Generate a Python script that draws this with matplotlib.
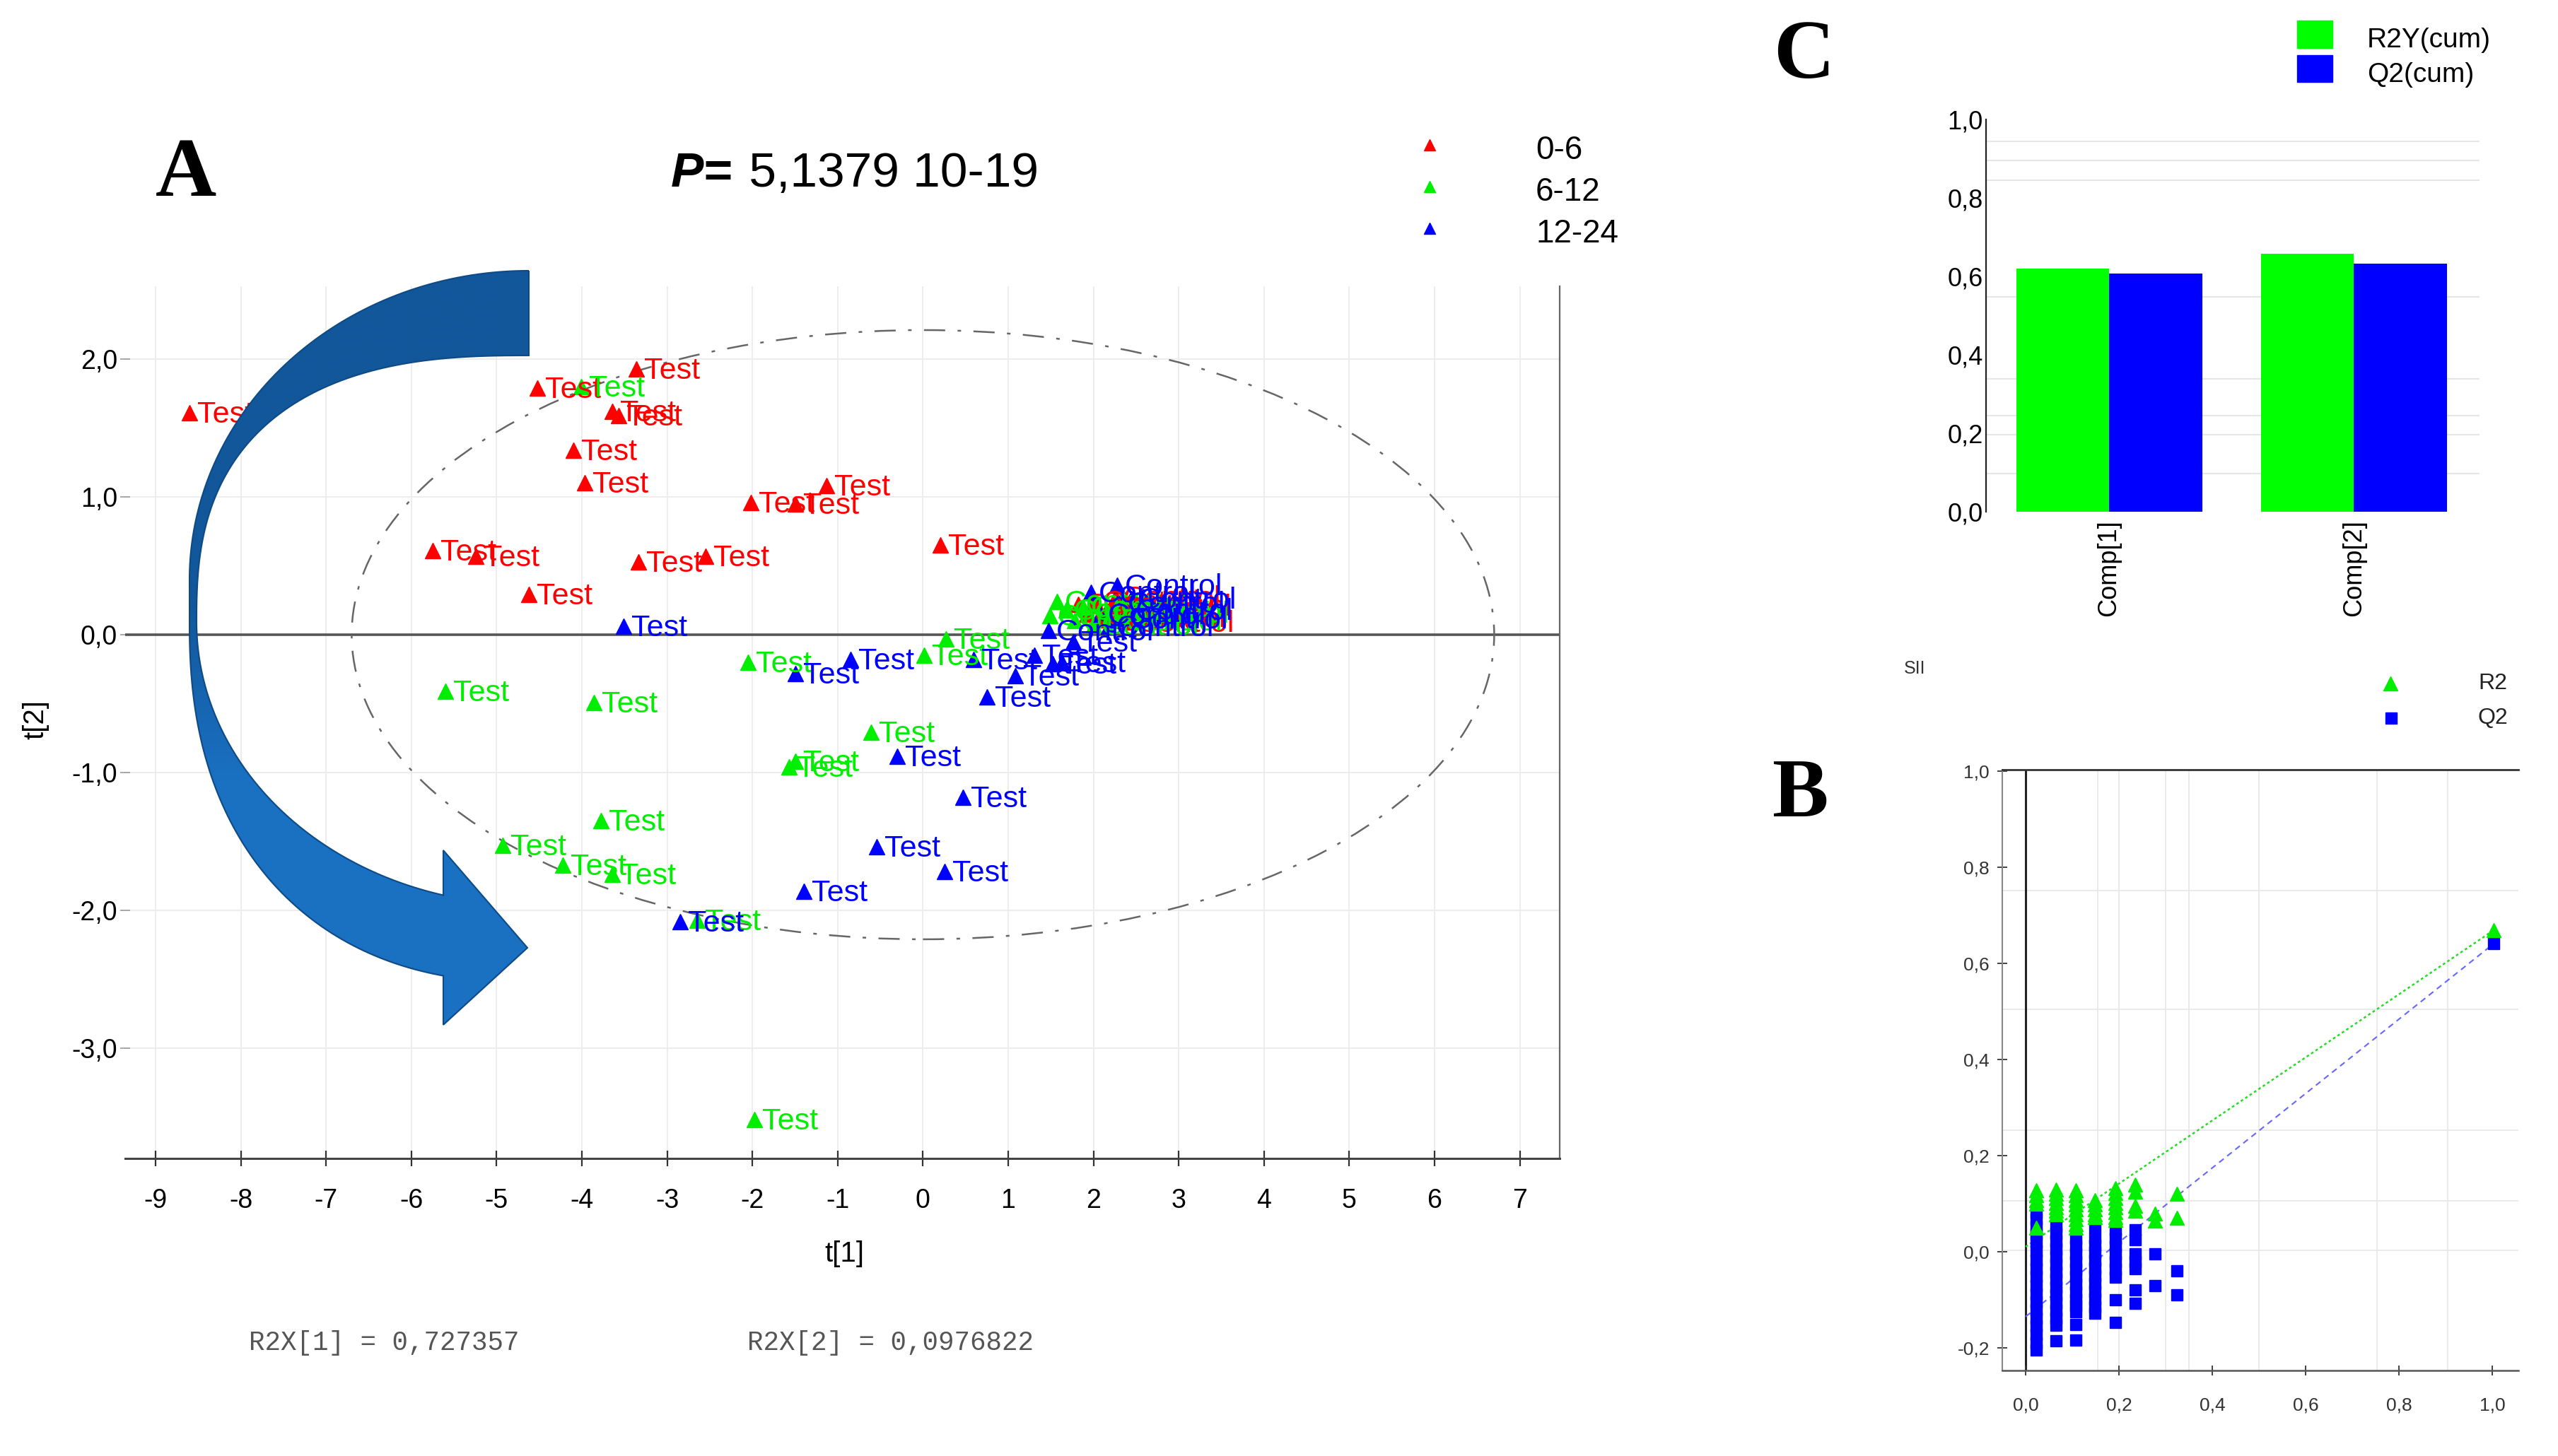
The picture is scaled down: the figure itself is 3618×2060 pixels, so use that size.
import numpy as np
import matplotlib
matplotlib.use('Agg')
import matplotlib.pyplot as plt
from matplotlib.patches import Ellipse, Rectangle, PathPatch
from matplotlib.path import Path

W, H = 3618, 2060
plt.rcParams['font.family'] = ['Liberation Sans', 'DejaVu Sans']

# ---------------- Panel A data (score plot t[1] vs t[2]) ----------------
red_test_x = [-8.60, -4.52, -3.36, -3.64, -3.57, -4.10, -3.97, -2.02, -1.50, -1.13,
              -5.75, -5.24, -3.34, -2.55, -4.62, 0.20]
red_test_y = [1.61, 1.79, 1.93, 1.62, 1.59, 1.34, 1.10, 0.96, 0.95, 1.08,
              0.61, 0.57, 0.53, 0.57, 0.29, 0.65]
green_test_x = [-4.01, -5.60, -3.86, -2.05, 0.27, 0.01, -0.61, -1.50, -1.57, -3.78,
                -4.93, -4.22, -3.64, -2.65, -1.98]
green_test_y = [1.80, -0.41, -0.49, -0.20, -0.03, -0.15, -0.71, -0.92, -0.96, -1.35,
                -1.53, -1.67, -1.74, -2.07, -3.52]
blue_test_x = [-3.51, -1.50, -0.85, 0.59, 1.31, 1.52, 1.63, 1.08, 0.75, -0.30,
               0.47, -0.54, 0.25, -1.40, -2.85, 1.76]
blue_test_y = [0.06, -0.28, -0.18, -0.18, -0.15, -0.21, -0.20, -0.30, -0.45, -0.88,
               -1.18, -1.54, -1.72, -1.86, -2.08, -0.05]
red_ctrl_x = [1.82, 1.92, 2.02, 2.10, 2.20, 2.26, 2.32, 2.38, 2.42]
red_ctrl_y = [0.22, 0.15, 0.24, 0.11, 0.19, 0.27, 0.13, 0.21, 0.09]
green_ctrl_x = [1.57, 1.49, 1.68, 1.78, 1.88, 2.00, 2.14, 2.28, 2.36]
green_ctrl_y = [0.24, 0.14, 0.18, 0.10, 0.20, 0.07, 0.16, 0.10, 0.16]
blue_ctrl_x = [1.47, 1.97, 2.08, 2.18, 2.28, 2.31, 2.34, 2.40, 2.44]
blue_ctrl_y = [0.03, 0.31, 0.15, 0.06, 0.36, 0.23, 0.12, 0.18, 0.26]
group_names = ['0-6', '6-12', '12-24']
group_colors = ['#ff0000', '#00ee00', '#0000ff']
a_xticks = list(range(-9, 8))
a_yticks = [-3.0, -2.0, -1.0, 0.0, 1.0, 2.0]
ellipse_rx, ellipse_ry = 6.70, 2.21
p_value_text = ' 5,1379 10-19'
r2x_1 = '0,727357'
r2x_2 = '0,0976822'

# ---------------- Panel C data (bar chart) ----------------
c_categories = ['Comp[1]', 'Comp[2]']
c_r2y = [0.620, 0.657]
c_q2 = [0.607, 0.633]
c_yticks = [0.0, 0.2, 0.4, 0.6, 0.8, 1.0]
c_gridlines = [0.097, 0.196, 0.245, 0.339, 0.548, 0.845, 0.895, 0.944]

# ---------------- Panel B data (permutation plot) ----------------
b_col_x = [0.023, 0.065, 0.108, 0.148, 0.192, 0.235, 0.277, 0.324]
b_r2_cols = [
    [0.128, 0.118, 0.108, 0.100, 0.050],
    [0.130, 0.121, 0.112, 0.102, 0.093, 0.085, 0.078],
    [0.128, 0.118, 0.108, 0.098, 0.088, 0.078, 0.068, 0.058, 0.050],
    [0.108, 0.098, 0.088, 0.078, 0.072],
    [0.132, 0.122, 0.112, 0.102, 0.092, 0.082, 0.072, 0.066],
    [0.140, 0.125, 0.095, 0.085],
    [0.080, 0.065],
    [0.120, 0.070],
]
b_q2_cols = [
    [0.083, 0.068, 0.052, 0.037, 0.020, 0.002, -0.018, -0.035, -0.052, -0.070, -0.088,
     -0.104, -0.121, -0.138, -0.155, -0.172, -0.190, -0.205],
    [0.053, 0.038, 0.022, 0.006, -0.010, -0.026, -0.042, -0.058, -0.074, -0.090,
     -0.106, -0.122, -0.138, -0.153, -0.185],
    [0.028, 0.012, -0.004, -0.020, -0.036, -0.052, -0.068, -0.084, -0.100, -0.112,
     -0.125, -0.151, -0.184],
    [0.053, 0.030, 0.014, -0.002, -0.018, -0.034, -0.050, -0.066, -0.082, -0.098,
     -0.114, -0.128],
    [0.045, 0.028, 0.012, -0.004, -0.020, -0.036, -0.053, -0.100, -0.147],
    [0.045, 0.025, -0.005, -0.020, -0.035, -0.080, -0.107],
    [-0.005, -0.070],
    [-0.040, -0.090],
]
b_final_x = 1.003
b_final_r2 = 0.669
b_final_q2 = 0.641
b_r2_intercept = 0.0105
b_q2_intercept = -0.135
b_ticks = [-0.2, 0.0, 0.2, 0.4, 0.6, 0.8, 1.0]
b_xticks = [0.0, 0.2, 0.4, 0.6, 0.8, 1.0]
b_vgrid = [0.155, 0.20, 0.30, 0.35, 0.50, 0.753, 0.905]
b_hgrid = [0.003, 0.106, 0.253, 0.505, 0.751]


def comma(v):
    return f"{v:.1f}".replace('.', ',')


def rect(left, top, right, bottom):
    return [left / W, 1 - bottom / H, (right - left) / W, (bottom - top) / H]


def superellipse(cx, cy, rx, ry, n, t0, t1, num=150):
    t = np.radians(np.linspace(t0, t1, num))
    c, s = np.cos(t), np.sin(t)
    x = cx + rx * np.sign(c) * np.abs(c) ** (2.0 / n)
    y = cy + ry * np.sign(s) * np.abs(s) ** (2.0 / n)
    return np.column_stack([x, y])


fig = plt.figure(figsize=(W / 100, H / 100), dpi=100)

# ======================= Panel A =======================
axA = fig.add_axes(rect(177, 405, 2206, 1639))
axA.set_xlim(-9.357, 7.468)
axA.set_ylim(-3.80, 2.528)
axA.set_xticks(a_xticks)
axA.set_xticklabels([str(v) for v in a_xticks])
axA.set_yticks(a_yticks)
axA.set_yticklabels([comma(v) for v in a_yticks])
axA.grid(True, color='#ececec', lw=1.3)
axA.set_axisbelow(True)
for s in ['left', 'top']:
    axA.spines[s].set_visible(False)
axA.spines['bottom'].set_color('#444444')
axA.spines['bottom'].set_linewidth(2.2)
axA.spines['right'].set_color('#666666')
axA.spines['right'].set_linewidth(1.6)
axA.tick_params(axis='x', direction='inout', length=16, width=1.6, color='#333333',
                labelsize=27, pad=22)
axA.tick_params(axis='y', direction='inout', length=10, width=1.2, color='#999999',
                labelsize=27, pad=3)
axA.axhline(0, color='#555555', lw=2.6, zorder=1)
axA.add_patch(Ellipse((0, 0), 2 * ellipse_rx, 2 * ellipse_ry, fill=False,
                      ec='#666666', lw=1.8, ls=(0, (12, 7, 2, 7)), zorder=2))


def draw_group(xs, ys, color, label):
    axA.plot(xs, ys, ls='none', marker='^', ms=16, color=color, mec=color, zorder=3)
    for x, y in zip(xs, ys):
        axA.annotate(label, (x, y), xytext=(11, -3), textcoords='offset pixels',
                     ha='left', va='center', fontsize=31, color=color, zorder=4)


draw_group(red_test_x, red_test_y, group_colors[0], 'Test')
draw_group(green_test_x, green_test_y, group_colors[1], 'Test')
draw_group(blue_test_x, blue_test_y, group_colors[2], 'Test')
draw_group(red_ctrl_x, red_ctrl_y, group_colors[0], 'Control')
draw_group(green_ctrl_x, green_ctrl_y, group_colors[1], 'Control')
draw_group(blue_ctrl_x, blue_ctrl_y, group_colors[2], 'Control')

# ======================= Panel C =======================
axC = fig.add_axes(rect(2809, 169, 3507, 724))
bw = 0.38
xc = np.arange(len(c_categories))
axC.bar(xc - bw / 2, c_r2y, bw, color='#00ff00', zorder=3)
axC.bar(xc + bw / 2, c_q2, bw, color='#0000ff', zorder=3)
axC.set_xlim(-0.503, 1.514)
axC.set_ylim(0, 1.0)
axC.set_yticks(c_yticks)
axC.set_yticklabels([comma(v) for v in c_yticks])
axC.set_xticks(xc)
axC.set_xticklabels(c_categories, rotation=90)
for g in c_gridlines:
    axC.axhline(g, color='#e6e6e6', lw=1.5, zorder=1)
for s in ['top', 'right', 'bottom']:
    axC.spines[s].set_visible(False)
axC.spines['left'].set_color('#222222')
axC.spines['left'].set_linewidth(1.6)
axC.tick_params(axis='y', length=0, labelsize=26, pad=3)
axC.tick_params(axis='x', length=0, labelsize=26, pad=8)

# ======================= Panel B =======================
axB = fig.add_axes(rect(2832, 1089, 3562, 1939))
axB.set_xlim(-0.05, 1.056)
axB.set_ylim(-0.247, 1.003)
for g in b_vgrid:
    axB.axvline(g, color='#e8e8e8', lw=1.3, zorder=0)
for g in b_hgrid:
    axB.axhline(g, color='#e8e8e8', lw=1.3, zorder=0)
axB.axvline(0, color='#222222', lw=2.2, zorder=1)
axB.plot([0, b_final_x], [b_r2_intercept, b_final_r2], color='#22dd22', lw=1.8,
         ls=(0, (1.5, 1.5)), zorder=2)
axB.plot([0, b_final_x], [b_q2_intercept, b_final_q2], color='#6666ff', lw=1.5,
         ls=(0, (4, 3)), zorder=2)
for x, col in zip(b_col_x, b_q2_cols):
    axB.plot([x] * len(col), col, ls='none', marker='s', ms=12, color='#0000ff', zorder=3)
for x, col in zip(b_col_x, b_r2_cols):
    axB.plot([x] * len(col), col, ls='none', marker='^', ms=14, color='#00ee00', zorder=4)
axB.plot([b_final_x], [b_final_q2], ls='none', marker='s', ms=12, color='#0000ff', zorder=3)
axB.plot([b_final_x], [b_final_r2], ls='none', marker='^', ms=14, color='#00ee00', zorder=4)
axB.set_yticks(b_ticks)
axB.set_yticklabels([comma(v) for v in b_ticks])
axB.set_xticks(b_xticks)
axB.set_xticklabels([comma(v) for v in b_xticks])
axB.spines['right'].set_visible(False)
axB.spines['top'].set_color('#333333')
axB.spines['top'].set_linewidth(2.0)
axB.spines['left'].set_color('#888888')
axB.spines['left'].set_linewidth(1.5)
axB.spines['bottom'].set_color('#555555')
axB.spines['bottom'].set_linewidth(1.8)
axB.tick_params(axis='y', direction='inout', length=10, width=1.3, color='#333333',
                labelsize=19, labelcolor='#333333', pad=8)
axB.tick_params(axis='x', direction='inout', length=10, width=1.3, color='#333333',
                labelsize=19, labelcolor='#333333', pad=22)

# ======================= Overlay (texts, legends, arrow) =======================
ov = fig.add_axes([0, 0, 1, 1], zorder=10)
ov.set_xlim(0, W)
ov.set_ylim(H, 0)
ov.axis('off')
ov.patch.set_alpha(0)

# curved arrow (decoration, figure-pixel geometry)
outer_up = superellipse(748, 820, 480, 437, 2.0, 270, 180)
outer_lo = superellipse(748, 880, 480, 510, 2.3, 180, 101.9)
head = np.array([[627, 1380], [627, 1450], [746, 1341], [627, 1203], [627, 1266]])
inner_lo = superellipse(748, 880, 470, 400, 2.0, 104.9, 180)
inner_up = superellipse(748, 880, 470, 377, 2.6, 180, 270)
pts = np.vstack([outer_up, outer_lo, head, inner_lo, inner_up, [[748, 383]]])
arrow_path = Path(pts)
ov.add_patch(PathPatch(arrow_path, fc='none', ec='#0e4a86', lw=1.5, zorder=6))
ys_g = np.linspace(380, 1455, 400)
wgt = np.clip((ys_g - 850) / 250, 0, 1)
c_top = np.array([0x12, 0x57, 0x9a]) / 255
c_bot = np.array([0x1a, 0x70, 0xc1]) / 255
img = (c_top[None, :] * (1 - wgt[:, None]) + c_bot[None, :] * wgt[:, None])
img = np.repeat(img[:, None, :], 4, axis=1)
im = ov.imshow(img, extent=(260, 760, 1455, 380), aspect='auto', zorder=5,
               interpolation='bilinear')
clip = PathPatch(arrow_path, fc='none', ec='none', transform=ov.transData)
ov.add_patch(clip)
im.set_clip_path(clip)
ov.set_xlim(0, W)
ov.set_ylim(H, 0)

# panel letters
for letter, x, y in [('A', 263, 277), ('C', 2551, 110), ('B', 2546, 1155)]:
    ov.text(x, y, letter, ha='center', va='baseline', fontsize=86, fontweight='bold',
            family=['Liberation Serif', 'DejaVu Serif'], color='black')

# P value
ov.text(949, 264, 'P=', ha='left', va='baseline', fontsize=50, fontweight='bold',
        fontstyle='italic', color='black')
ov.text(1040, 264, p_value_text, ha='left', va='baseline', fontsize=50, color='black')

# legend panel A
for i, (name, col) in enumerate(zip(group_names, group_colors)):
    yy = 205 + i * 59
    ov.plot([2022], [yy], marker='^', ms=12, color=col, ls='none')
    ov.text(2172, yy + 8, name, ha='left', va='center', fontsize=33, color='black')

# axis labels panel A
ov.text(50, 1018, 't[2]', rotation=90, ha='center', va='center', fontsize=29)
ov.text(1194, 1774, 't[1]', ha='center', va='center', fontsize=29)

# R2X texts
ov.text(352, 1900, 'R2X[1] = ' + r2x_1, ha='left', va='center', fontsize=27,
        family=['Liberation Mono', 'DejaVu Sans Mono'], color='#555555')
ov.text(1057, 1900, 'R2X[2] = ' + r2x_2, ha='left', va='center', fontsize=27,
        family=['Liberation Mono', 'DejaVu Sans Mono'], color='#555555')

# legend panel C
ov.add_patch(Rectangle((3249, 29), 50, 39, color='#00ff00'))
ov.add_patch(Rectangle((3249, 78), 50, 38, color='#0000ff'))
ov.text(3348, 57, 'R2Y(cum)', ha='left', va='center', fontsize=28)
ov.text(3348, 106, 'Q2(cum)', ha='left', va='center', fontsize=28)

# legend panel B
ov.plot([3381], [967], marker='^', ms=14, color='#00ee00', ls='none')
ov.plot([3382], [1016], marker='s', ms=12, color='#0000ff', ls='none')
ov.text(3505, 967, 'R2', ha='left', va='center', fontsize=23, color='#222222')
ov.text(3505, 1016, 'Q2', ha='left', va='center', fontsize=23, color='#222222')
ov.text(2693, 946, 'SII', ha='left', va='center', fontsize=18, color='#333333')

fig.savefig('out.png', dpi=100)
